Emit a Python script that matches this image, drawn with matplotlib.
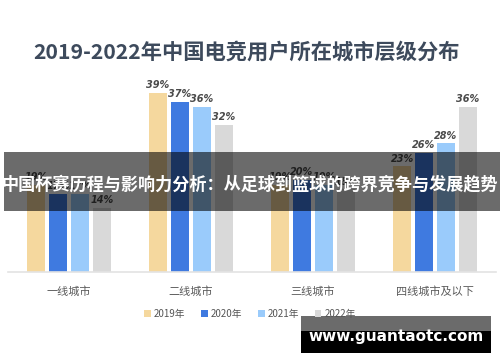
import matplotlib
matplotlib.use("Agg")
import matplotlib.pyplot as plt
from matplotlib.patches import Rectangle
import numpy as np

plt.rcParams['font.family'] = ['Noto Sans CJK SC', 'DejaVu Sans']

categories = ["一线城市", "二线城市", "三线城市", "四线城市及以下"]
series_names = ["2019年", "2020年", "2021年", "2022年"]
v2019 = [19, 39, 19, 23]
v2020 = [17, 37, 20, 26]
v2021 = [17, 36, 19, 28]
v2022 = [14, 32, 18, 36]
values = [v2019, v2020, v2021, v2022]
colors = ["#F5D89E", "#3F7AE0", "#9ACBFB", "#D9D9D9"]

title = "2019-2022年中国电竞用户所在城市层级分布"
banner = "中国杯赛历程与影响力分析：从足球到篮球的跨界竞争与发展趋势"
watermark = "www.guantaotc.com"

W, H = 500, 362
fig = plt.figure(figsize=(W / 100, H / 100), dpi=100)
ax = fig.add_axes([8 / W, (H - 272) / H, 488 / W, 193 / H])

x = np.arange(len(categories))
bw = 0.148
step = 0.18
for i, (vals, c, name) in enumerate(zip(values, colors, series_names)):
    pos = x + (i - 1.5) * step
    ax.bar(pos, vals, width=bw, color=c, label=name, zorder=2)
    for p, v in zip(pos, vals):
        ax.annotate(f"{v}%", (p, v), xytext=(0, 2), textcoords="offset points",
                    ha="center", va="bottom", fontsize=7, fontweight="bold",
                    fontstyle="italic", color="#4a4a4a", family=["DejaVu Sans"])

ax.set_xlim(-0.5, 3.5)
ax.set_ylim(0, 42)
for s in ["top", "right", "left"]:
    ax.spines[s].set_visible(False)
ax.spines["bottom"].set_color("#E3E3E3")
ax.spines["bottom"].set_linewidth(1.2)
ax.set_yticks([])
ax.set_xticks(x)
ax.set_xticklabels(categories, fontsize=8, color="#5a5a5a", fontweight="medium")
ax.tick_params(axis="x", length=0, pad=10)

fig.text(247 / W, 1 - 52 / H, title, ha="center", va="center", fontsize=15.3,
         fontweight="bold", color="#3D4A5C")

leg = fig.legend(loc="center", bbox_to_anchor=(0.5, 1 - 314 / H), ncol=4, frameon=False,
                 fontsize=7, handlelength=0.7, handleheight=0.7, handletextpad=0.3,
                 columnspacing=1.6, labelcolor="#555555")

# overlay banner
fig.add_artist(Rectangle((4 / W, (H - 211) / H), 1 - 4 / W, 59 / H, transform=fig.transFigure,
                         facecolor="black", alpha=0.58, edgecolor="none", zorder=5))
fig.text(250 / W, 1 - 184 / H, banner, ha="center", va="center", fontsize=12.3,
         fontweight="bold", color="white", zorder=6)

# watermark
fig.add_artist(Rectangle((301 / W, (H - 331) / H), 190 / W, 15 / H, transform=fig.transFigure,
                         facecolor="black", alpha=0.58, edgecolor="none", zorder=5))
fig.add_artist(Rectangle((301 / W, (H - 353) / H), 190 / W, 22 / H, transform=fig.transFigure,
                         facecolor="black", edgecolor="none", zorder=5))
fig.text(396 / W, 1 - 337 / H, watermark, ha="center", va="center", fontsize=11,
         fontweight="bold", color="white", family=["DejaVu Sans"], zorder=6)

fig.savefig("out.png", dpi=100)
